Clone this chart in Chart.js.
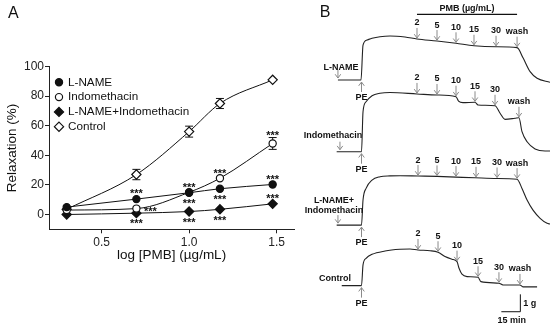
<!DOCTYPE html>
<html>
<head>
<meta charset="utf-8">
<script src="https://cdn.jsdelivr.net/npm/chart.js@4.4.1/dist/chart.umd.min.js"></script>
<style>
  html, body { margin: 0; padding: 0; background: #fff; }
  #wrap { position: relative; width: 550px; height: 330px; overflow: hidden; }
  .box { position: absolute; top: 0; height: 330px; }
</style>
</head>
<body>
<div id="wrap">
  <div class="box" style="left:0;width:300px"><canvas id="chartA"></canvas></div>
  <div class="box" style="left:300px;width:250px"><canvas id="chartB"></canvas></div>
</div>
<script>
// ---- panel A : concentration-response ----
const doses = [0.301, 0.699, 1.0, 1.176, 1.477];   // log [PMB]
const xTicks = [0.5, 1.0, 1.5];
const yTicks = [0, 20, 40, 60, 80, 100];
const lName = [5, 10.4, 14.7, 17.4, 20.3];
const indo = [3, 4, 15, 24.5, 48];
const lNameIndo = [0, 0.9, 2, 3.5, 7.2];
const control = [3.5, 27, 56, 75, 91];
const controlErr = [0, 3.5, 3.7, 3.4, 0];
const indoErr = [0, 0, 0, 0, 4];
const seriesNames = ['L-NAME', 'Indomethacin', 'L-NAME+Indomethacin', 'Control'];

// *** marks (dose, series index, side of the point)
const starDose = [0.699, 0.699, 0.699, 1.0, 1.0, 1.0, 1.176, 1.176, 1.176, 1.477, 1.477, 1.477];
const starSeries = [0, 1, 2, 0, 0, 2, 1, 0, 2, 1, 0, 2];
const starSide = ['above', 'right', 'below', 'above', 'below', 'below', 'above', 'below', 'below', 'above', 'above', 'above'];

// ---- panel B : tension recordings (time in min from PE, tension in g) ----
const traceNames = [['L-NAME'], ['Indomethacin'], ['L-NAME+', 'Indomethacin'], ['Control']];
const t1 = [-18.6, -0.4, 1.2, 4.3, 8.3, 14.6, 22.5, 34.3, 43.8, 59.6, 74.6, 88.8, 106.2, 122.8, 127.6, 133.1, 138.6, 148.8];
const g1 = [0, 0, 2.01, 2.30, 2.40, 2.49, 2.53, 2.47, 2.36, 2.24, 2.11, 1.97, 1.91, 1.86, 1.26, 0.48, 0.10, -0.13];
const t2 = [-19.6, 0, 1.2, 3.6, 8.3, 14.6, 22.5, 43.8, 59.6, 74.6, 76.6, 80.1, 89.6, 92.0, 105.4, 109.4, 113.3, 121.2, 124.3, 126.7, 130.7, 137.0, 144.9, 148.8];
const g2 = [0, 0, 2.30, 2.87, 3.22, 3.36, 3.40, 3.32, 3.26, 3.16, 2.91, 2.82, 2.84, 2.68, 2.64, 2.21, 1.86, 1.92, 1.95, 1.15, 0.57, 0.16, 0.04, 0.04];
const t3 = [-19.6, 0, 1.2, 3.6, 8.3, 14.6, 22.5, 30.4, 44.6, 59.6, 74.6, 89.6, 107, 122.8, 126.7, 130.7, 135.4, 141, 146.5, 148.8];
const g3 = [0, 0, 1.44, 2.11, 2.59, 2.78, 2.83, 2.84, 2.82, 2.80, 2.76, 2.72, 2.68, 2.64, 2.11, 1.44, 0.86, 0.39, 0.10, 0.06];
const t4 = [-15.6, 0, 1.2, 3.6, 8.3, 18.6, 30.4, 38.3, 44.6, 54.1, 60.4, 65.9, 71.4, 75.4, 77.0, 79.3, 83.3, 92.0, 94.3, 108.5, 111.7, 125.1, 127.4, 138.6];
const g4 = [0, 0, 1.19, 1.57, 1.80, 1.99, 2.09, 2.11, 2.05, 2.01, 1.92, 1.67, 1.52, 1.38, 1.00, 0.66, 0.52, 0.48, 0.23, 0.14, 0.04, 0.04, -0.07, -0.07];
const laneBase = [14.37, 10.25, 6.03, 2.55];   // g offset of each recording
const pmbLabels = ['2', '5', '10', '15', '30', 'wash'];
const pmbTime1 = [43.8, 59.6, 74.6, 88.8, 106.2, 122.8];
const pmbTime2 = [43.8, 59.6, 74.6, 89.6, 105.4, 124.3];
const pmbTime3 = [44.6, 59.6, 74.6, 90.4, 107, 122.8];
const pmbTime4 = [44.6, 60.4, 75.4, 92.0, 108.5, 125.1];
const drugTime = [-18.6, -17.0, -18.6, null];
const barMinutes = 15, barGrams = 1;

const traceTime = [t1, t2, t3, t4];
const traceTension = [g1, g2, g3, g4];
const pmbTime = [pmbTime1, pmbTime2, pmbTime3, pmbTime4];

Chart.defaults.font.family = '"Liberation Sans", Arial, sans-serif';
Chart.defaults.color = '#222';

const INK = '#111';

function marker(ctx, style, x, y, r, filled) {
  ctx.beginPath();
  if (style === 'circle') {
    ctx.arc(x, y, r, 0, Math.PI * 2);
  } else {
    ctx.moveTo(x, y - r); ctx.lineTo(x + r, y); ctx.lineTo(x, y + r); ctx.lineTo(x - r, y); ctx.closePath();
  }
  ctx.fillStyle = filled ? INK : '#fff';
  ctx.fill();
  ctx.lineWidth = 1.2;
  ctx.strokeStyle = INK;
  ctx.stroke();
}

const styles = [
  { style: 'circle', r: 3.6, filled: true },
  { style: 'circle', r: 3.6, filled: false },
  { style: 'rectRot', r: 4.6, filled: true },
  { style: 'rectRot', r: 4.6, filled: false }
];
const seriesVals = [lName, indo, lNameIndo, control];

const dsA = seriesVals.map((vals, k) => ({
  label: seriesNames[k],
  data: doses.map((d, i) => ({ x: d, y: vals[i] })),
  borderColor: INK,
  borderWidth: 1,
  backgroundColor: styles[k].filled ? INK : '#fff',
  pointStyle: styles[k].style,
  pointRadius: styles[k].r,
  pointBorderWidth: 1.2,
  pointBorderColor: INK,
  pointBackgroundColor: styles[k].filled ? INK : '#fff',
  cubicInterpolationMode: 'monotone',
  fill: false
}));

const panelA = {
  id: 'panelA',
  beforeDatasetsDraw(chart) {
    const ctx = chart.ctx, xs = chart.scales.x, ys = chart.scales.y;
    ctx.save();
    ctx.strokeStyle = INK;
    ctx.lineWidth = 1;
    [[control, controlErr], [indo, indoErr]].forEach(([vals, errs]) => {
      errs.forEach((e, i) => {
        if (!e) return;
        const x = xs.getPixelForValue(doses[i]);
        const y0 = ys.getPixelForValue(vals[i] - e);
        const y1 = ys.getPixelForValue(vals[i] + e);
        ctx.beginPath();
        ctx.moveTo(x, y0); ctx.lineTo(x, y1);
        ctx.moveTo(x - 4, y0); ctx.lineTo(x + 4, y0);
        ctx.moveTo(x - 4, y1); ctx.lineTo(x + 4, y1);
        ctx.stroke();
      });
    });
    ctx.restore();
  },
  afterDraw(chart) {
    const ctx = chart.ctx, xs = chart.scales.x, ys = chart.scales.y;
    ctx.save();
    ctx.fillStyle = INK;
    // stars
    ctx.font = 'bold 11px "Liberation Sans", Arial, sans-serif';
    ctx.textAlign = 'center';
    ctx.textBaseline = 'alphabetic';
    starDose.forEach((d, i) => {
      const s = starSeries[i];
      const idx = doses.indexOf(d);
      const v = seriesVals[s][idx];
      const px = xs.getPixelForValue(d);
      const py = ys.getPixelForValue(v);
      const err = s === 1 ? indoErr[idx] : 0;
      const errPx = err ? Math.abs(ys.getPixelForValue(v + err) - py) : 0;
      let cx = px, cy = py;
      if (starSide[i] === 'above') cy = py - Math.max(8, errPx + 5);
      else if (starSide[i] === 'below') cy = py + 8;
      else cx = px + 14;
      ctx.fillText('***', cx, cy + 6.3);
    });
    // legend
    ctx.font = '11.7px "Liberation Sans", Arial, sans-serif';
    ctx.textAlign = 'left';
    ctx.textBaseline = 'middle';
    seriesNames.forEach((name, k) => {
      const y = 82.3 + k * 14.8;
      marker(ctx, styles[k].style, 59, y, styles[k].r, styles[k].filled);
      ctx.fillStyle = INK;
      ctx.fillText(name, 68, y);
    });
    // panel letter
    ctx.font = '16px "Liberation Sans", Arial, sans-serif';
    ctx.fillText('A', 8, 14);
    ctx.restore();
  }
};

new Chart(document.getElementById('chartA'), {
  type: 'line',
  data: { datasets: dsA },
  options: {
    responsive: true,
    maintainAspectRatio: false,
    animation: false,
    layout: { padding: { left: 0, right: 5, top: 66.5, bottom: 0 } },
    plugins: { legend: { display: false }, tooltip: { enabled: false } },
    scales: {
      x: {
        type: 'linear', min: 0.2, max: 1.6,
        afterBuildTicks: s => { s.ticks = xTicks.map(v => ({ value: v })); },
        afterFit: s => { s.height = 100.7; },
        ticks: { callback: v => v.toFixed(1), font: { size: 12 }, color: '#222', padding: 2, maxRotation: 0 },
        grid: { display: true, drawOnChartArea: false, drawTicks: true, tickLength: 4, color: '#222' },
        border: { display: true, color: '#222', width: 1 },
        title: { display: true, text: 'log [PMB] (µg/mL)', font: { size: 13.5 }, color: INK, padding: { top: 0, bottom: 67 } }
      },
      y: {
        min: -10, max: 100,
        afterBuildTicks: s => { s.ticks = yTicks.map(v => ({ value: v })); },
        afterFit: s => { s.width = 49; },
        ticks: { font: { size: 12 }, color: '#222', padding: 1 },
        grid: { display: true, drawOnChartArea: false, drawTicks: true, tickLength: 4, color: '#222' },
        border: { display: true, color: '#222', width: 1 },
        title: { display: true, text: 'Relaxation (%)', font: { size: 13.5 }, color: INK, padding: { top: 4, bottom: 0 } }
      }
    }
  },
  plugins: [panelA]
});

// ---- panel B ----
function tensionAt(k, t) {
  const ts = traceTime[k], gs = traceTension[k];
  for (let i = 1; i < ts.length; i++) {
    if (t <= ts[i]) {
      const f = (t - ts[i - 1]) / (ts[i] - ts[i - 1]);
      return gs[i - 1] + f * (gs[i] - gs[i - 1]);
    }
  }
  return gs[gs.length - 1];
}

function arrow(ctx, x, yFrom, yTip) {
  const dir = yTip > yFrom ? -1 : 1;
  ctx.beginPath();
  ctx.moveTo(x, yFrom); ctx.lineTo(x, yTip);
  ctx.moveTo(x - 2.8, yTip + dir * 3.8); ctx.lineTo(x, yTip); ctx.lineTo(x + 2.8, yTip + dir * 3.8);
  ctx.stroke();
}

const labelCx = [41, 33, 34, 35];
const labelGap = [13, 16.5, 15, 7];

const panelB = {
  id: 'panelB',
  afterDraw(chart) {
    const ctx = chart.ctx, xs = chart.scales.x, ys = chart.scales.y;
    ctx.save();
    const bold = 'bold 9px "Liberation Sans", Arial, sans-serif';
    ctx.font = bold;
    ctx.textAlign = 'center';
    ctx.textBaseline = 'middle';
    ctx.lineWidth = 1;
    traceNames.forEach((lines, k) => {
      const yb = ys.getPixelForValue(laneBase[k]);
      // drug label + arrow
      ctx.fillStyle = INK;
      lines.forEach((txt, j) => {
        ctx.fillText(txt, labelCx[k], yb - labelGap[k] - (lines.length - 1 - j) * 10);
      });
      ctx.strokeStyle = '#8a8a8a';
      if (drugTime[k] !== null) {
        arrow(ctx, xs.getPixelForValue(drugTime[k]), yb - 10, yb - 2);
      }
      // PE
      const xpe = xs.getPixelForValue(0);
      arrow(ctx, xpe, yb + 12, yb + 2);
      ctx.fillText('PE', xpe, yb + 17.5);
      // PMB additions
      pmbTime[k].forEach((t, j) => {
        const x = xs.getPixelForValue(t);
        const ty = ys.getPixelForValue(laneBase[k] + tensionAt(k, t));
        ctx.strokeStyle = '#8a8a8a';
        arrow(ctx, x, ty - 11, ty - 1);
        ctx.fillStyle = INK;
        ctx.fillText(pmbLabels[j], x, ty - 16);
      });
    });
    // PMB header bar
    const xa = xs.getPixelForValue(pmbTime1[0]), xb = xs.getPixelForValue(pmbTime1[pmbTime1.length - 1]);
    ctx.strokeStyle = INK;
    ctx.lineWidth = 1.3;
    ctx.beginPath(); ctx.moveTo(xa, 14.3); ctx.lineTo(xb, 14.3); ctx.stroke();
    ctx.fillText('PMB (µg/mL)', (xa + xb) / 2, 8.3);
    // scale bar
    const sx = xs.getPixelForValue(125.4), sy = ys.getPixelForValue(1.05);
    const sx0 = xs.getPixelForValue(125.4 - barMinutes), sy1 = ys.getPixelForValue(1.05 + barGrams);
    ctx.lineWidth = 1;
    ctx.beginPath(); ctx.moveTo(sx0, sy); ctx.lineTo(sx, sy); ctx.lineTo(sx, sy1); ctx.stroke();
    ctx.textAlign = 'left';
    ctx.fillText('1 g', sx + 3, (sy + sy1) / 2);
    ctx.textAlign = 'center';
    ctx.fillText('15 min', (sx + sx0) / 2 + 1, sy + 8.5);
    // panel letter
    ctx.font = '16px "Liberation Sans", Arial, sans-serif';
    ctx.fillText('B', 25, 12.5);
    ctx.restore();
  }
};

new Chart(document.getElementById('chartB'), {
  type: 'line',
  data: {
    datasets: traceTime.map((ts, k) => ({
      label: traceNames[k].join(' '),
      data: ts.map((t, i) => ({ x: t, y: laneBase[k] + traceTension[k][i] })),
      borderColor: '#222',
      borderWidth: 1.1,
      pointRadius: 0,
      cubicInterpolationMode: 'monotone',
      fill: false
    }))
  },
  options: {
    responsive: true,
    maintainAspectRatio: false,
    animation: false,
    layout: { padding: 0 },
    plugins: { legend: { display: false }, tooltip: { enabled: false } },
    scales: {
      x: { type: 'linear', min: -48.55, max: 148.8, display: false },
      y: { min: 0, max: 18.97, display: false }
    }
  },
  plugins: [panelB]
});
</script>
</body>
</html>
